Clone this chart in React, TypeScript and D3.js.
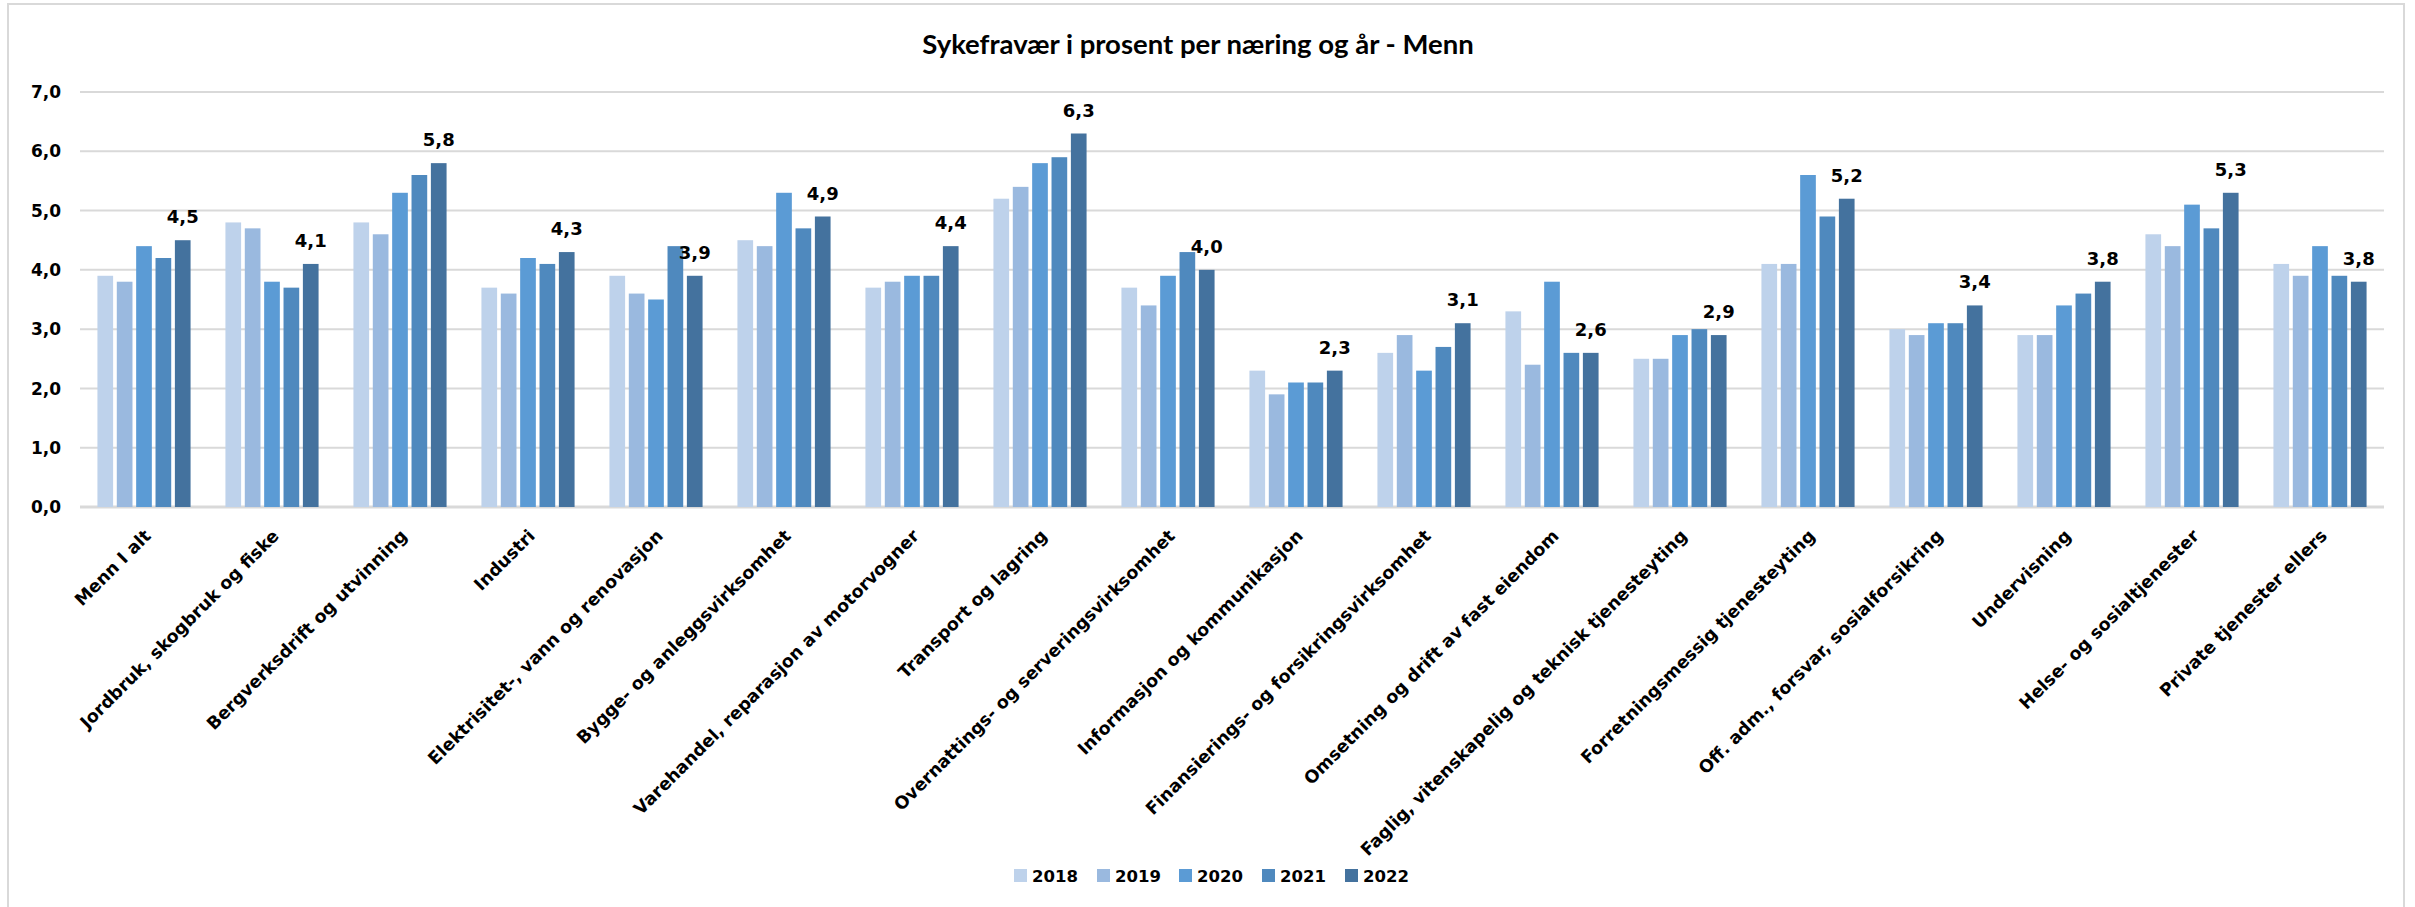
import React from "react";
import * as d3 from "d3";

const categories = [
  "Menn I alt",
  "Jordbruk, skogbruk og fiske",
  "Bergverksdrift og utvinning",
  "Industri",
  "Elektrisitet-, vann og renovasjon",
  "Bygge- og anleggsvirksomhet",
  "Varehandel, reparasjon av motorvogner",
  "Transport og lagring",
  "Overnattings- og serveringsvirksomhet",
  "Informasjon og kommunikasjon",
  "Finansierings- og forsikringsvirksomhet",
  "Omsetning og drift av fast eiendom",
  "Faglig, vitenskapelig og teknisk tjenesteyting",
  "Forretningsmessig tjenesteyting",
  "Off. adm., forsvar, sosialforsikring",
  "Undervisning",
  "Helse- og sosialtjenester",
  "Private tjenester ellers",
];

const years = ["2018", "2019", "2020", "2021", "2022"];

const v2018 = [3.9, 4.8, 4.8, 3.7, 3.9, 4.5, 3.7, 5.2, 3.7, 2.3, 2.6, 3.3, 2.5, 4.1, 3.0, 2.9, 4.6, 4.1];
const v2019 = [3.8, 4.7, 4.6, 3.6, 3.6, 4.4, 3.8, 5.4, 3.4, 1.9, 2.9, 2.4, 2.5, 4.1, 2.9, 2.9, 4.4, 3.9];
const v2020 = [4.4, 3.8, 5.3, 4.2, 3.5, 5.3, 3.9, 5.8, 3.9, 2.1, 2.3, 3.8, 2.9, 5.6, 3.1, 3.4, 5.1, 4.4];
const v2021 = [4.2, 3.7, 5.6, 4.1, 4.4, 4.7, 3.9, 5.9, 4.3, 2.1, 2.7, 2.6, 3.0, 4.9, 3.1, 3.6, 4.7, 3.9];
const v2022 = [4.5, 4.1, 5.8, 4.3, 3.9, 4.9, 4.4, 6.3, 4.0, 2.3, 3.1, 2.6, 2.9, 5.2, 3.4, 3.8, 5.3, 3.8];

const seriesValues = [v2018, v2019, v2020, v2021, v2022];
const colors = ["#BED2EB", "#9AB9DF", "#5B9BD5", "#4F89BE", "#44729E"];
const yTicks = [0, 1, 2, 3, 4, 5, 6, 7];

const title = "Sykefravær i prosent per næring og år - Menn";

const W = 2415;
const H = 907;
const plotLeft = 80;
const plotRight = 2384;
const plotTop = 92;
const plotBottom = 507;

const FONT = "'DejaVu Sans', Verdana, sans-serif";
const fmt = (v: number) => v.toFixed(1).replace(".", ",");

export default function App() {
  const x0 = d3.scaleBand<string>().domain(categories).range([plotLeft, plotRight]).padding(0);
  const x1 = d3
    .scaleBand<string>()
    .domain(years)
    .range([0, x0.bandwidth()])
    .paddingInner(0.19)
    .paddingOuter(0.9);
  const y = d3.scaleLinear().domain([0, 7]).range([plotBottom, plotTop]);

  const legendX = [1014, 1097, 1179, 1262, 1345];

  return (
    <svg
      width={W}
      height={H}
      style={{ position: "absolute", left: 0, top: 0, background: "#fff" }}
      fontFamily={FONT}
    >
      <rect x={0} y={0} width={W} height={H} fill="#fff" />
      <rect x={8} y={4} width={2396} height={904} fill="none" stroke="#D9D9D9" strokeWidth={2} />

      <text
        x={1198}
        y={54}
        textAnchor="middle"
        fontFamily="Lato, 'Open Sans', sans-serif"
        fontWeight={700}
        fontSize={27.5}
        fill="#000"
      >
        {title}
      </text>

      {yTicks.map((t) => (
        <g key={t}>
          <line
            x1={plotLeft}
            x2={plotRight}
            y1={y(t)}
            y2={y(t)}
            stroke="#D9D9D9"
            strokeWidth={t === 0 ? 3 : 2}
          />
          <text
            x={61}
            y={y(t)}
            dy="0.36em"
            textAnchor="end"
            fontWeight={700}
            fontSize={17}
            fill="#000"
          >
            {fmt(t)}
          </text>
        </g>
      ))}

      {categories.map((c, i) => (
        <g key={c} transform={`translate(${x0(c)},0)`}>
          {years.map((yr, j) => {
            const v = seriesValues[j][i];
            return (
              <rect
                key={yr}
                x={x1(yr)}
                y={y(v)}
                width={x1.bandwidth()}
                height={y(0) - y(v)}
                fill={colors[j]}
              />
            );
          })}
          <text
            x={(x1("2022") as number) + x1.bandwidth() / 2}
            y={y(seriesValues[4][i]) - 17}
            textAnchor="middle"
            fontWeight={700}
            fontSize={18}
            fill="#000"
          >
            {fmt(seriesValues[4][i])}
          </text>
        </g>
      ))}

      {categories.map((c) => {
        const cx = (x0(c) as number) + x0.bandwidth() / 2;
        return (
          <text
            key={"l" + c}
            transform={`translate(${cx + 8},${537}) rotate(-45)`}
            textAnchor="end"
            fontWeight={700}
            fontSize={17.5}
            fill="#000"
          >
            {c}
          </text>
        );
      })}

      {years.map((yr, j) => (
        <g key={"lg" + yr}>
          <rect x={legendX[j]} y={869} width={13} height={13} fill={colors[j]} />
          <text x={legendX[j] + 18} y={882} fontWeight={700} fontSize={16.5} fill="#000">
            {yr}
          </text>
        </g>
      ))}
    </svg>
  );
}
